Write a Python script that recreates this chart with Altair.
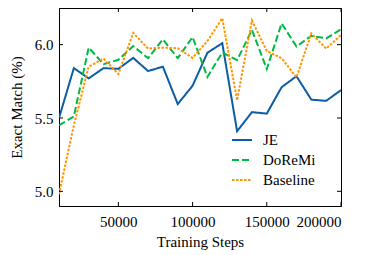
import altair as alt
import pandas as pd

steps = [10000, 20000, 30000, 40000, 50000, 60000, 70000, 80000, 90000, 100000,
         110000, 120000, 130000, 140000, 150000, 160000, 170000, 180000, 190000, 200000]
je = [5.50, 5.84, 5.77, 5.84, 5.835, 5.91, 5.82, 5.85, 5.595, 5.72,
      5.945, 6.01, 5.41, 5.54, 5.53, 5.71, 5.785, 5.625, 5.617, 5.69]
doremi = [5.45, 5.51, 5.98, 5.867, 5.897, 5.99, 5.908, 6.036, 5.908, 6.052,
          5.78, 5.946, 5.895, 6.10, 5.834, 6.145, 5.987, 6.06, 6.043, 6.104]
baseline = [4.98, 5.45, 5.85, 5.905, 5.80, 6.08, 5.973, 5.98, 5.975, 5.91,
            6.025, 6.18, 5.62, 6.165, 5.957, 5.908, 5.777, 6.077, 5.973, 6.065]
series_names = ["JE", "DoReMi", "Baseline"]
series_colors = ["#0C5DA5", "#00B945", "#FF9500"]
series_dashes = [[1, 0], [7, 3], [2.5, 1.5]]
x_ticks = [50000, 100000, 150000, 200000]
y_ticks = [5.0, 5.5, 6.0]

rows = []
for name, vals in zip(series_names, [je, doremi, baseline]):
    for s, v in zip(steps, vals):
        rows.append({"step": s, "value": v, "series": name})
df = pd.DataFrame(rows)

W, H = 282, 198
FONT = "Liberation Serif"
FS = 15

xscale = alt.Scale(domain=[10000, 200000], nice=False, zero=False)
yscale = alt.Scale(domain=[4.9, 6.25], nice=False, zero=False)

leg = dict(title=None, orient="none", legendX=172, legendY=121,
           symbolType="stroke", symbolSize=400, symbolStrokeWidth=2,
           labelOffset=10, rowPadding=1, padding=0,
           labelFont=FONT, labelFontSize=FS, labelColor="black",
           labelFontWeight="normal")

lines = alt.Chart(df).mark_line(strokeWidth=2, clip=True).encode(
    x=alt.X("step:Q", scale=xscale,
            axis=alt.Axis(title="Training Steps", values=x_ticks, format="d",
                          grid=False, ticks=False, labelPadding=8,
                          titlePadding=5, domainColor="black")),
    y=alt.Y("value:Q", scale=yscale,
            axis=alt.Axis(title="Exact Match (%)", values=y_ticks, format=".1f",
                          grid=False, ticks=False, labelPadding=6,
                          titlePadding=10, domainColor="black")),
    color=alt.Color("series:N",
                    scale=alt.Scale(domain=series_names, range=series_colors),
                    legend=alt.Legend(**leg)),
    strokeDash=alt.StrokeDash("series:N",
                              scale=alt.Scale(domain=series_names, range=series_dashes),
                              legend=alt.Legend(**leg)),
)

xt = pd.DataFrame({"step": x_ticks})
yt = pd.DataFrame({"value": y_ticks})
tick_len = 4
xb = alt.Chart(xt).mark_rule(color="black", strokeWidth=1).encode(
    x=alt.X("step:Q", scale=xscale), y=alt.value(H), y2=alt.value(H - tick_len))
xtp = alt.Chart(xt).mark_rule(color="black", strokeWidth=1).encode(
    x=alt.X("step:Q", scale=xscale), y=alt.value(0), y2=alt.value(tick_len))
yl = alt.Chart(yt).mark_rule(color="black", strokeWidth=1).encode(
    y=alt.Y("value:Q", scale=yscale), x=alt.value(0), x2=alt.value(tick_len))
yr = alt.Chart(yt).mark_rule(color="black", strokeWidth=1).encode(
    y=alt.Y("value:Q", scale=yscale), x=alt.value(W), x2=alt.value(W - tick_len))

chart = alt.layer(lines, xb, xtp, yl, yr).properties(
    width=W, height=H,
    autosize=alt.AutoSizeParams(type="none"),
    padding={"left": 51, "top": 0, "right": 8, "bottom": 47},
).configure(font=FONT).configure_view(
    stroke="black", strokeWidth=1
).configure_axis(
    labelFont=FONT, titleFont=FONT, labelFontSize=FS, titleFontSize=FS,
    labelColor="black", titleColor="black", titleFontWeight="normal",
    labelFontWeight="normal", domainWidth=1,
).configure_legend(
    labelFont=FONT, labelFontSize=FS, labelColor="black",
)

chart.save("out.html", embed_options={"renderer": "svg", "actions": False})
